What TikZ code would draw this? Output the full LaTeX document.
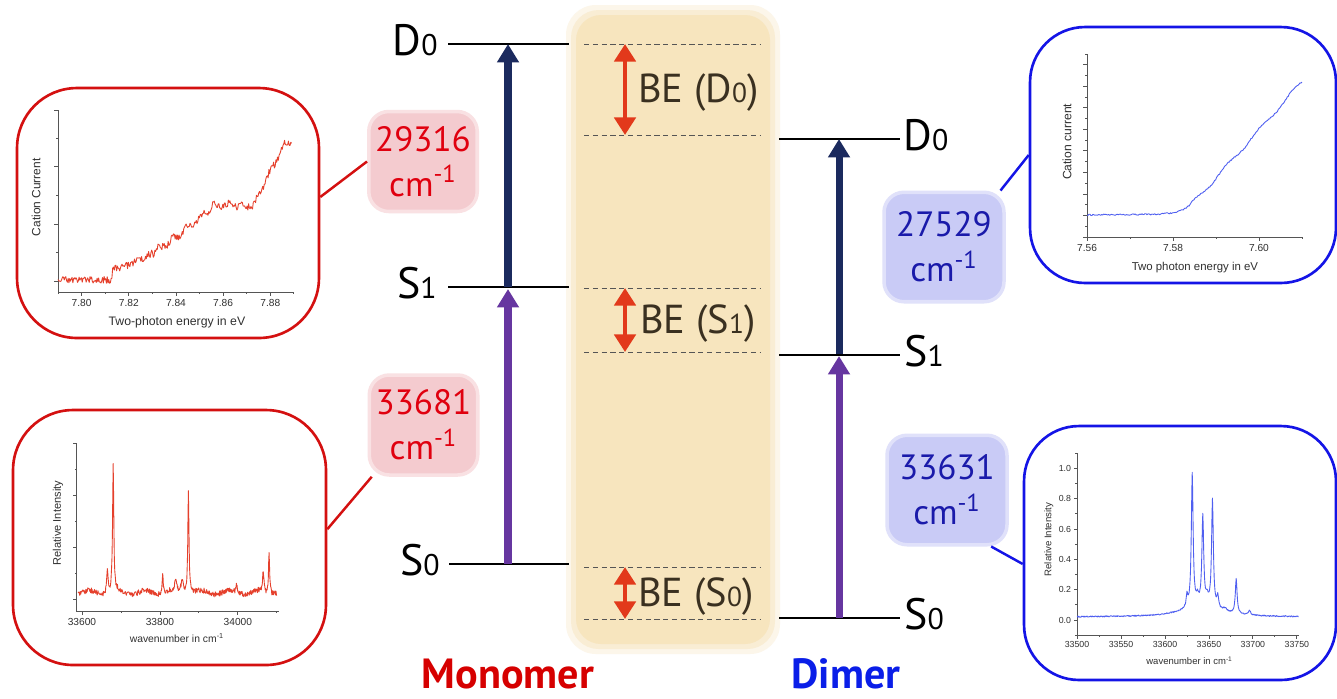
\documentclass[tikz,border=0pt]{standalone}
\usepackage{fontspec}
\setmainfont{PT Sans}
\newfontfamily\plotfont{Liberation Sans}
\usepackage{graphicx}
\usetikzlibrary{positioning,arrows.meta}
\definecolor{bandfill}{HTML}{F7E5BE}
\definecolor{bandmid}{HTML}{F9EDD4}
\definecolor{bandhalo}{HTML}{FCF6EA}
\definecolor{gapline}{HTML}{555555}
\definecolor{ioncol}{HTML}{1B2A5E}
\definecolor{excitecol}{HTML}{6636A0}
\definecolor{bered}{HTML}{E2391B}
\definecolor{betext}{HTML}{3A3020}
\definecolor{monored}{HTML}{E0000F}
\definecolor{monotitle}{HTML}{D60000}
\definecolor{dimblue}{HTML}{1A1AAA}
\definecolor{dimtitle}{HTML}{0A1EE8}
\definecolor{pinkbox}{HTML}{F4CBCF}
\definecolor{pinkhalo}{HTML}{F9E1E3}
\definecolor{bluebox}{HTML}{C9CBF6}
\definecolor{bluehalo}{HTML}{E0E1FA}
\definecolor{framered}{HTML}{D41010}
\definecolor{frameblue}{HTML}{1414E6}
\definecolor{curvered}{HTML}{E5402C}
\definecolor{curveblue}{HTML}{4F5FF0}
\definecolor{axisgrey}{HTML}{555555}
\definecolor{plottext}{HTML}{303030}

\newcommand{\stlvl}[2]{#1\scalebox{0.68}{#2}}

% shapes of the measured curves
\tikzset{
    declare function={
        cl(\offs,\wid)=min(abs(\offs)/\wid,100);
        pk(\offs,\wid)=1/(1+cl(\offs,\wid)*cl(\offs,\wid));
        ta(\mev)=max(0,min(\mev-23,43))/43;
        ieA(\mev)=0.068+0.06*(\mev>23)+0.35*ta(\mev)*sqrt(ta(\mev))+0.026*max(0,min(\mev-83,13))+0.012*sin(61*\mev)*(\mev>40);
        spB(\wn)=0.11+0.012*sin(5*\wn)+0.14*pk(\wn-65,2)+0.76*pk(\wn-80,1.8)+0.12*pk(\wn-207,1.5)+0.06*pk(\wn-240,3)+0.08*pk(\wn-257,3)+0.6*pk(\wn-273,1.8)+0.05*pk(\wn-397,2)+0.13*pk(\wn-465,1.8)+0.26*pk(\wn-480,1.6);
        vC(\mev)=\mev-22.5;
        ieC(\mev)=0.119+0.01325*(vC(\mev)+sqrt(vC(\mev)*vC(\mev)+6.25))+0.01*sin(47*\mev)*(\mev>24);
        spD(\wn)=0.02+0.07*pk(\wn-140,25)+0.08*pk(\wn-125,1)+0.88*pk(\wn-131,1.2)+0.05*pk(\wn-137,1.5)+0.59*pk(\wn-143,1.2)+0.05*pk(\wn-148,2)+0.71*pk(\wn-154,1.2)+0.08*pk(\wn-160,1.2)+0.02*pk(\wn-168,3)+0.23*pk(\wn-181,1.2)+0.03*pk(\wn-196,1.5);
    }
}

\begin{document}
\begin{tikzpicture}[
    x=0.02cm, y=-0.02cm,
    every node/.style={
        inner sep=0pt
    },
    level/.style={
        line width=1.1pt,
        draw=black
    },
    lvlabel/.style={
        font=\fontsize{25}{25}\selectfont
    },
    belabel/.style={
        font=\fontsize{23}{23}\selectfont,
        text=betext
    },
    gap/.style={
        densely dashed,
        line width=0.4pt,
        draw=gapline
    },
    ionize/.style={
        -{Triangle[width=12pt,length=10.5pt]},
        line width=4pt,
        draw=ioncol
    },
    excite/.style={
        -{Triangle[width=12pt,length=10.5pt]},
        line width=4pt,
        draw=excitecol
    },
    bearrow/.style={
        {Triangle[width=12pt,length=10pt]}-{Triangle[width=12pt,length=10pt]},
        line width=2.8pt,
        draw=bered
    },
    monobox/.style={
        fill=pinkbox,
        draw=pinkhalo,
        line width=2pt,
        rounded corners=0.4cm,
        minimum width=2.17cm,
        minimum height=2cm,
        align=center,
        text=monored,
        font=\fontsize{20}{25.5}\selectfont
    },
    dimbox/.style={
        fill=bluebox,
        draw=bluehalo,
        line width=2pt,
        rounded corners=0.4cm,
        minimum width=2.4cm,
        minimum height=2.19cm,
        align=center,
        text=dimblue,
        font=\fontsize{20}{25.5}\selectfont
    },
    insetred/.style={
        draw=framered,
        fill=white,
        line width=1.5pt,
        rounded corners=1.2cm
    },
    insetblue/.style={
        draw=frameblue,
        fill=white,
        line width=1.5pt,
        rounded corners=1.1cm
    },
    linkred/.style={
        line width=1.4pt,
        draw=framered
    },
    linkblue/.style={
        line width=1.4pt,
        draw=frameblue
    },
    title/.style={
        font=\fontsize{24}{24}\selectfont\bfseries
    },
    axis/.style={
        line width=0.5pt,
        draw=axisgrey
    },
    curve/.style={
        line width=0.5pt,
        line join=round
    },
    plotlbl/.style={
        font=\plotfont\fontsize{#1}{#1}\selectfont,
        text=plottext
    }
]

\fill[white] (0,0) rectangle (1337,698);
\useasboundingbox (0,0) rectangle (1337,698);
\pgfmathsetseed{11}

% binding energy band
\fill[bandhalo, rounded corners=0.6cm] (566,5) rectangle (780,654);
\fill[bandmid, rounded corners=0.55cm] (571,10) rectangle (775,649);
\fill[bandfill, rounded corners=0.5cm] (576,15) rectangle (770,644);

\foreach \y [count=\i] in {44,135,288,352,567,619} {
    \coordinate (gl\i) at (584,\y);
    \coordinate (gr\i) at (761,\y);
    \draw[gap] (gl\i) -- (gr\i);
}

% monomer levels
\coordinate (mD0l) at (448,44);  \coordinate (mD0r) at (569,44);
\coordinate (mS1l) at (448,287); \coordinate (mS1r) at (569,287);
\coordinate (mS0l) at (449,564); \coordinate (mS0r) at (569,564);
\draw[level] (mD0l) -- (mD0r);
\draw[level] (mS1l) -- (mS1r);
\draw[level] (mS0l) -- (mS0r);
\node[lvlabel, left=0.2cm of mD0l, yshift=2pt] (mD0t) {\stlvl{D}{0}};
\node[lvlabel, left=0.22cm of mS1l, yshift=2pt] (mS1t) {\stlvl{S}{1}};
\node[lvlabel, left=0.18cm of mS0l, yshift=2pt] (mS0t) {\stlvl{S}{0}};

% dimer levels
\coordinate (dD0l) at (779,139); \coordinate (dD0r) at (900,139);
\coordinate (dS1l) at (779,355); \coordinate (dS1r) at (900,355);
\coordinate (dS0l) at (779,618); \coordinate (dS0r) at (900,618);
\draw[level] (dD0l) -- (dD0r);
\draw[level] (dS1l) -- (dS1r);
\draw[level] (dS0l) -- (dS0r);
\node[lvlabel, right=0.06cm of dD0r, yshift=2pt] (dD0t) {\stlvl{D}{0}};
\node[lvlabel, right=0.08cm of dS1r, yshift=2pt] (dS1t) {\stlvl{S}{1}};
\node[lvlabel, right=0.08cm of dS0r, yshift=2pt] (dS0t) {\stlvl{S}{0}};

% transitions
\coordinate (mD0a) at (508,44);
\coordinate (mS1a) at (508,287);
\coordinate (mS1b) at (508,289);
\coordinate (mS0a) at (508,564);
\draw[excite] (mS0a) -- (mS1b);
\draw[ionize] (mS1a) -- (mD0a);
\coordinate (dD0a) at (839,139);
\coordinate (dS1a) at (839,354);
\coordinate (dS1b) at (839,356);
\coordinate (dS0a) at (839,618);
\draw[excite] (dS0a) -- (dS1b);
\draw[ionize] (dS1a) -- (dD0a);

% binding energy shifts
\coordinate (beD0m) at (625,89.5);
\coordinate (beS1m) at (625,320);
\coordinate (beS0m) at (625,593);
\draw[bearrow] (625,135) -- (625,44);
\draw[bearrow] (625,352) -- (625,288);
\draw[bearrow] (625,619) -- (625,567);
\node[belabel, right=0.26cm of beD0m, yshift=-2pt] (beD0t) {BE (\stlvl{D}{0})};
\node[belabel, right=0.3cm of beS1m, yshift=-2pt] (beS1t) {BE (\stlvl{S}{1})};
\node[belabel, right=0.26cm of beS0m, yshift=-2pt] (beS0t) {BE (\stlvl{S}{0})};

\node[title, text=monotitle] (monoT) at (508,674) {Monomer};
\node[title, text=dimtitle] (dimT) at (846,674) {Dimer};

% energy boxes
\node[monobox] (ieMono) at (423,161.5) {29316\\cm\textsuperscript{-1}};
\node[monobox] (exMono) at (423.5,425) {33681\\cm\textsuperscript{-1}};
\node[dimbox] (ieDim) at (944,247) {27529\\cm\textsuperscript{-1}};
\node[dimbox] (exDim) at (947,490) {33631\\cm\textsuperscript{-1}};

% spectra frames
\node[insetred, minimum width=6.04cm, minimum height=5cm] (ieMonoPlot) at (168,213) {};
\node[insetred, minimum width=6.26cm, minimum height=5.1cm] (exMonoPlot) at (169.5,537.5) {};
\node[insetblue, minimum width=6.12cm, minimum height=5.12cm] (ieDimPlot) at (1183,155) {};
\node[insetblue, minimum width=6.24cm, minimum height=5.08cm] (exDimPlot) at (1180,553) {};

\draw[linkred] (ieMonoPlot.6) -- (ieMono.west);
\draw[linkred] (exMonoPlot.3) -- (exMono.225);
\draw[linkblue] (ieDim.45) -- (ieDimPlot.west);
\draw[linkblue] (exDim.-52) -- (exDimPlot.184);

% monomer ionisation curve
\begin{scope}[shift={(58,292)}, x=0.0472cm, y=3.64cm]
    \draw[axis] (0,1) -- (0,0) -- (100,0);
    \foreach \v in {0.06,0.374,0.688,1} \draw[axis] (0,\v) -- ++(-2.2pt,0pt);
    \foreach \v in {0.217,0.531,0.845} \draw[axis] (0,\v) -- ++(-1.2pt,0pt);
    \foreach \t/\l [count=\i] in {10/7.80,30/7.82,50/7.84,70/7.86,90/7.88} {
        \draw[axis] (\t,0) -- ++(0pt,-2pt);
        \node[plotlbl=5.8, below=4pt] (xtA\i) at (\t,0) {\l};
    }
    \foreach \t in {0,20,...,100} \draw[axis] (\t,0) -- ++(0pt,-1.2pt);
    \node[plotlbl=7, below=14pt] (xlabA) at (50.4,0) {Two-photon energy in eV};
    \node[plotlbl=6.8, rotate=90] (ylabA) at (-9.3,0.52) {Cation Current};
    \draw[curvered, curve] plot[domain=0:99, samples=300] (\x,{ieA(\x)+0.02*rand});
\end{scope}

% monomer excitation spectrum
\begin{scope}[shift={(82,611)}, x=0.0078cm, y=3.36cm]
    \draw[axis] (-13,1) -- (-13,0) -- (505,0);
    \foreach \v in {0.071,0.381,0.690,1} \draw[axis] (-13,\v) -- ++(-2.2pt,0pt);
    \foreach \v in {0.226,0.535,0.845} \draw[axis] (-13,\v) -- ++(-1.2pt,0pt);
    \foreach \t/\l [count=\i] in {0/33600,200/33800,400/34000} {
        \draw[axis] (\t,0) -- ++(0pt,-2pt);
        \node[plotlbl=5.8, below=4pt] (xtB\i) at (\t,0) {\l};
    }
    \foreach \t in {100,300,500} \draw[axis] (\t,0) -- ++(0pt,-1.2pt);
    \node[plotlbl=5.9, below=12.5pt] (xlabB) at (243.6,0) {wavenumber in cm\textsuperscript{-1}};
    \node[plotlbl=6.3, rotate=90] (ylabB) at (-61.5,0.524) {Relative Intensity};
    \draw[curvered, curve] plot[domain=-10:500, samples=511] (\x,{spB(\x)+0.016*rand});
\end{scope}

% dimer ionisation curve
\begin{scope}[shift={(1087,237)}, x=0.086cm, y=3.66cm]
    \draw[axis] (0,1) -- (0,0) -- (50,0);
    \foreach \k in {0,2,...,16} \draw[axis] (0,{\k/17}) -- ++(-2.2pt,0pt);
    \foreach \k in {1,3,...,17} \draw[axis] (0,{\k/17}) -- ++(-1.2pt,0pt);
    \foreach \t/\l [count=\i] in {0/7.56,20/7.58,40/7.60} {
        \draw[axis] (\t,0) -- ++(0pt,-2pt);
        \node[plotlbl=5.8, below=4pt] (xtC\i) at (\t,0) {\l};
    }
    \foreach \t in {10,30,50} \draw[axis] (\t,0) -- ++(0pt,-1.2pt);
    \node[plotlbl=6.5, below=14pt] (xlabC) at (25.1,0) {Two photon energy in eV};
    \node[plotlbl=6.9, rotate=90] (ylabC) at (-4.65,0.52) {Cation current};
    \draw[curveblue, curve] plot[domain=0:50, samples=220] (\x,{ieC(\x)+0.004*rand});
\end{scope}

% dimer excitation spectrum
\begin{scope}[shift={(1077,620)}, x=0.0176cm, y=3.032cm]
    \draw[axis] (0,1.1) -- (0,-0.1) -- (252,-0.1);
    \foreach \v/\l [count=\i] in {0/0.0,0.2/0.2,0.4/0.4,0.6/0.6,0.8/0.8,1/1.0} {
        \draw[axis] (0,\v) -- ++(-2pt,0pt);
        \node[plotlbl=5, left=3.2pt] (ytD\i) at (0,\v) {\l};
    }
    \foreach \v in {-0.1,0.1,0.3,0.5,0.7,0.9,1.1} \draw[axis] (0,\v) -- ++(-1.1pt,0pt);
    \foreach \t/\l [count=\i] in {0/33500,50/33550,100/33600,150/33650,200/33700,250/33750} {
        \draw[axis] (\t,-0.1) -- ++(0pt,-2pt);
        \node[plotlbl=5, below=3.5pt] (xtD\i) at (\t,-0.1) {\l};
    }
    \foreach \t in {25,75,...,225} \draw[axis] (\t,-0.1) -- ++(0pt,-1.1pt);
    \node[plotlbl=5.4, below=12pt] (xlabD) at (128,-0.1) {wavenumber in cm\textsuperscript{-1}};
    \node[plotlbl=5.5, rotate=90] (ylabD) at (-32,0.53) {Relative Intensity};
    \draw[curveblue, curve] plot[domain=0:252, samples=505] (\x,{spD(\x)+0.004*rand});
\end{scope}

\end{tikzpicture}
\end{document}
